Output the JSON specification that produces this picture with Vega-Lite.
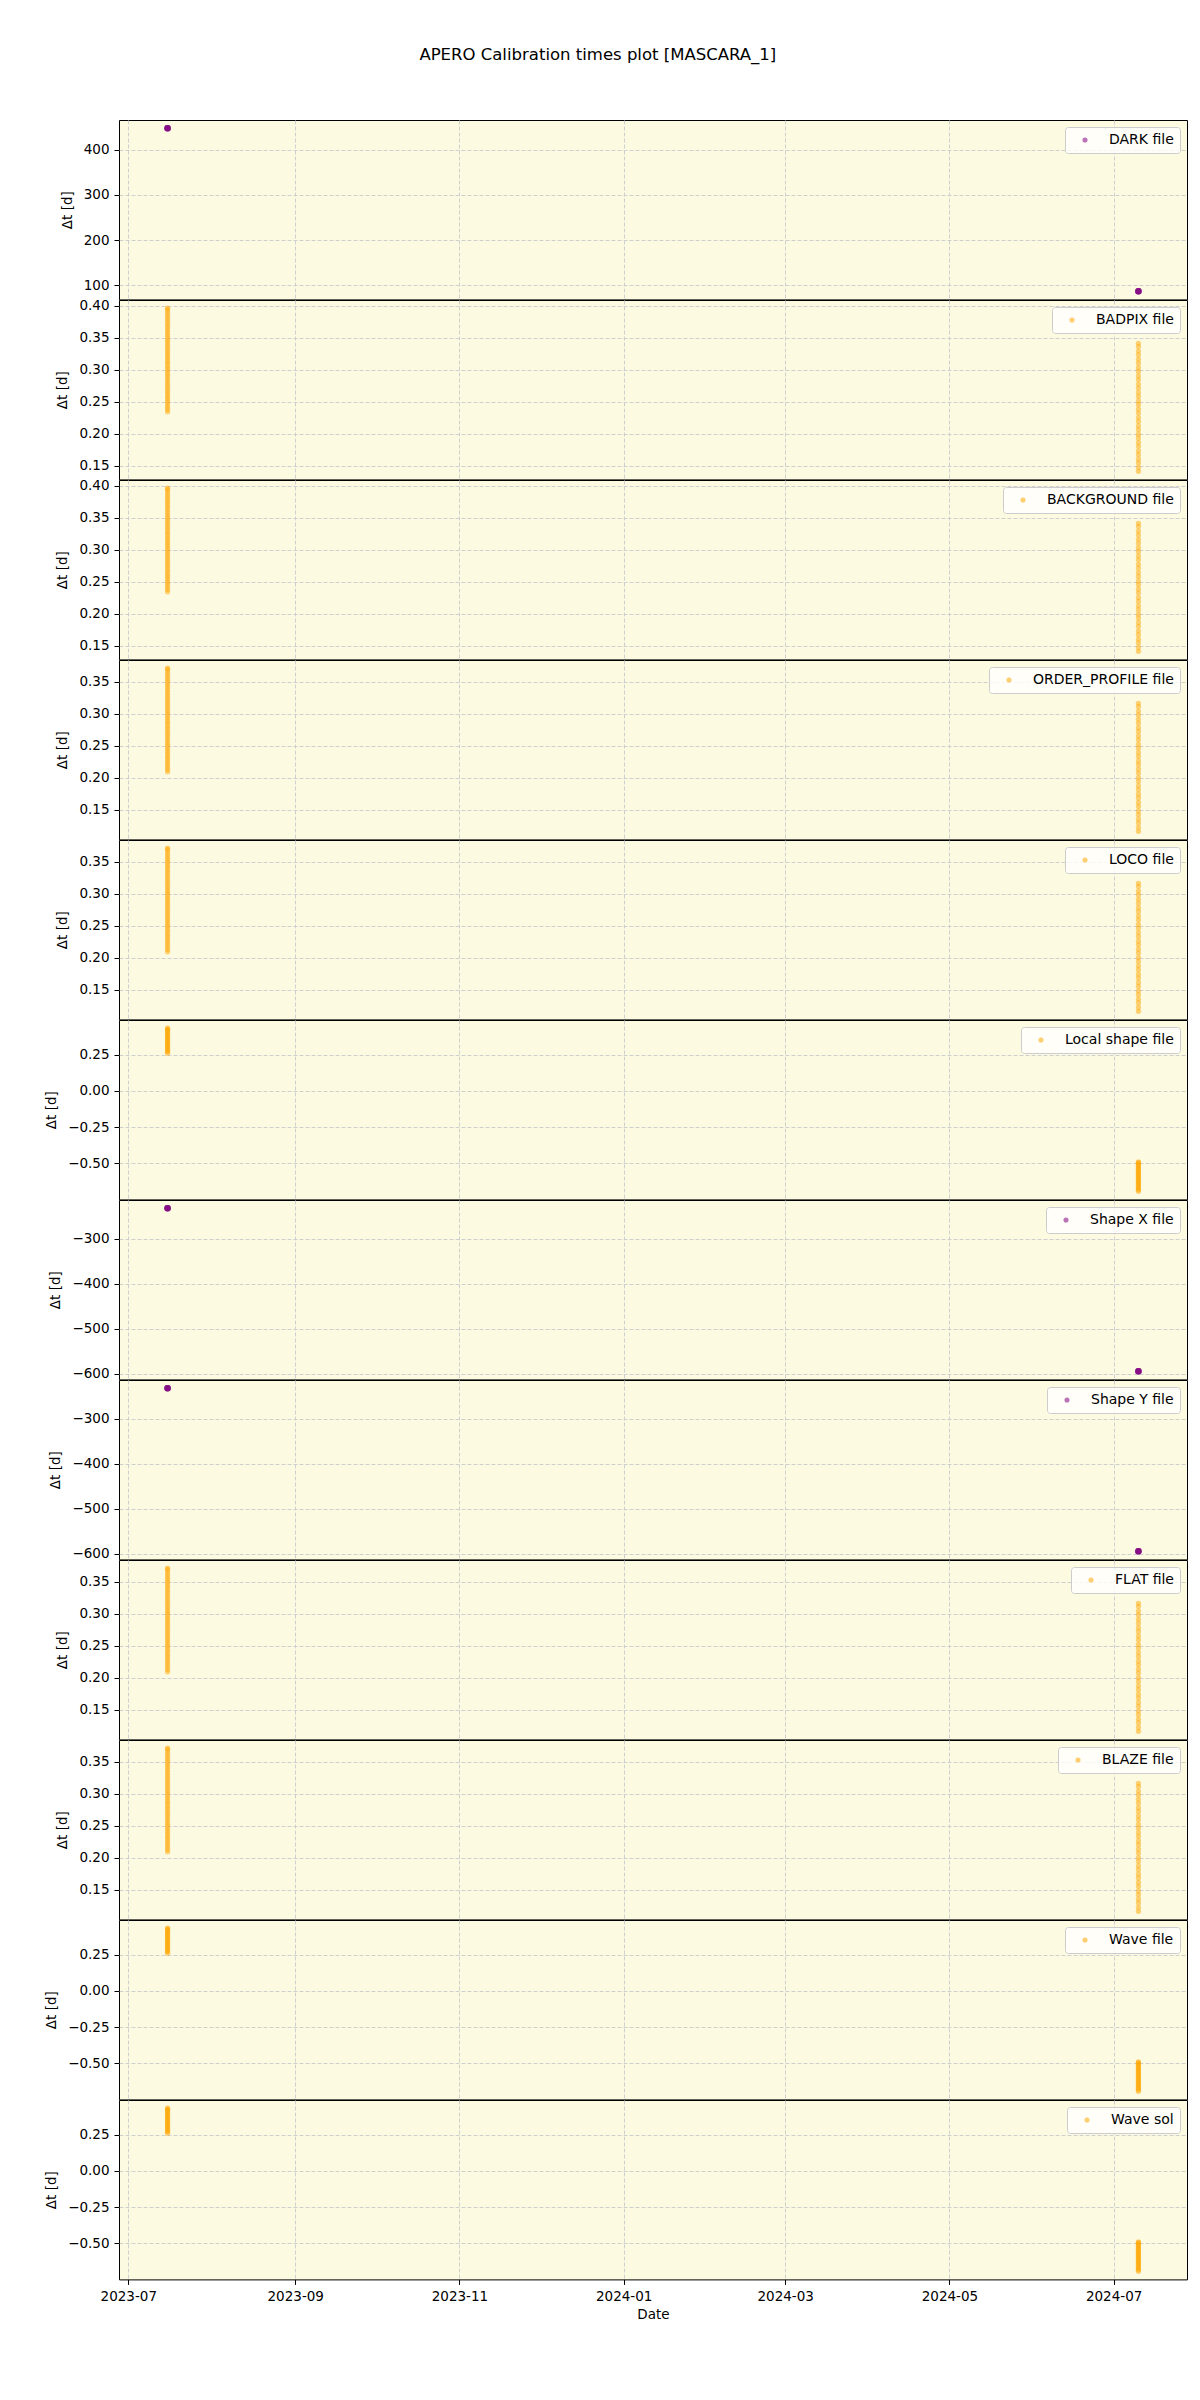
{
  "$schema": "https://vega.github.io/schema/vega-lite/v6.json",
  "padding": {"left": 44, "top": 47, "right": 12, "bottom": 5},
  "title": {"text": "APERO Calibration times plot [MASCARA_1]", "fontSize": 16.5, "fontWeight": "normal", "font": "DejaVu Sans", "color": "#000000", "anchor": "middle", "frame": "bounds", "offset": 56, "dx": -18},
  "spacing": 0,
  "bounds": "flush",
  "config": {
    "font": "DejaVu Sans",
    "view": {"stroke": "#000000", "strokeWidth": 1, "fill": "#fcfbe1"},
    "axis": {"domain": false, "grid": true, "gridColor": "#cfcfcf", "gridDash": [4, 2], "gridWidth": 1, "tickColor": "#000000", "tickSize": 5, "tickWidth": 1, "labelColor": "#000000", "labelFontSize": 13.5, "labelFont": "DejaVu Sans", "labelPadding": 5, "titleColor": "#000000", "titleFontSize": 13.5, "titleFont": "DejaVu Sans", "titleFontWeight": "normal", "labelFlush": false, "labelOverlap": false},
    "axisY": {"titlePadding": 9},
    "axisX": {"titlePadding": 4, "labelPadding": 5.5},
    "legend": {"orient": "top-right", "offset": 7, "padding": 6, "fillColor": "rgba(255,255,255,0.8)", "strokeColor": "#cccccc", "strokeWidth": 1, "cornerRadius": 3, "labelFontSize": 14, "labelColor": "#000000", "labelFont": "DejaVu Sans", "symbolSize": 26, "symbolOpacity": 0.55, "symbolOffset": 7, "labelOffset": 17, "symbolStrokeWidth": 0}
  },
  "datasets": {
    "dark": [
      {"t": "2023-07-15T14:00:00", "y": 447.95}, {"t": "2023-07-15T14:00:00", "y": 448.0}, {"t": "2023-07-15T14:00:00", "y": 448.05}, {"t": "2023-07-15T14:00:00", "y": 448.1},
      {"t": "2024-07-10T05:00:00", "y": 86.75}, {"t": "2024-07-10T05:00:00", "y": 86.8}, {"t": "2024-07-10T05:00:00", "y": 86.85}, {"t": "2024-07-10T05:00:00", "y": 86.9}
    ],
    "sh": [
      {"t": "2023-07-15T14:00:00", "y": -231.6}, {"t": "2023-07-15T14:00:00", "y": -231.55}, {"t": "2023-07-15T14:00:00", "y": -231.5}, {"t": "2023-07-15T14:00:00", "y": -231.45},
      {"t": "2024-07-10T05:00:00", "y": -594.1}, {"t": "2024-07-10T05:00:00", "y": -594.05}, {"t": "2024-07-10T05:00:00", "y": -594.0}, {"t": "2024-07-10T05:00:00", "y": -593.95}
    ],
    "bp": [
      {"t": "2023-07-15T14:00:00", "y": 0.234}, {"t": "2023-07-15T14:00:00", "y": 0.238}, {"t": "2023-07-15T14:00:00", "y": 0.242}, {"t": "2023-07-15T14:00:00", "y": 0.246}, {"t": "2023-07-15T14:00:00", "y": 0.250}, {"t": "2023-07-15T14:00:00", "y": 0.254}, {"t": "2023-07-15T14:00:00", "y": 0.258}, {"t": "2023-07-15T14:00:00", "y": 0.262}, {"t": "2023-07-15T14:00:00", "y": 0.266}, {"t": "2023-07-15T14:00:00", "y": 0.270}, {"t": "2023-07-15T14:00:00", "y": 0.274}, {"t": "2023-07-15T14:00:00", "y": 0.278}, {"t": "2023-07-15T14:00:00", "y": 0.282}, {"t": "2023-07-15T14:00:00", "y": 0.286}, {"t": "2023-07-15T14:00:00", "y": 0.290}, {"t": "2023-07-15T14:00:00", "y": 0.294}, {"t": "2023-07-15T14:00:00", "y": 0.298}, {"t": "2023-07-15T14:00:00", "y": 0.302}, {"t": "2023-07-15T14:00:00", "y": 0.306}, {"t": "2023-07-15T14:00:00", "y": 0.310}, {"t": "2023-07-15T14:00:00", "y": 0.314}, {"t": "2023-07-15T14:00:00", "y": 0.318}, {"t": "2023-07-15T14:00:00", "y": 0.322}, {"t": "2023-07-15T14:00:00", "y": 0.326}, {"t": "2023-07-15T14:00:00", "y": 0.330}, {"t": "2023-07-15T14:00:00", "y": 0.334}, {"t": "2023-07-15T14:00:00", "y": 0.338}, {"t": "2023-07-15T14:00:00", "y": 0.342}, {"t": "2023-07-15T14:00:00", "y": 0.346}, {"t": "2023-07-15T14:00:00", "y": 0.350}, {"t": "2023-07-15T14:00:00", "y": 0.354}, {"t": "2023-07-15T14:00:00", "y": 0.358}, {"t": "2023-07-15T14:00:00", "y": 0.362}, {"t": "2023-07-15T14:00:00", "y": 0.366}, {"t": "2023-07-15T14:00:00", "y": 0.370}, {"t": "2023-07-15T14:00:00", "y": 0.374}, {"t": "2023-07-15T14:00:00", "y": 0.378}, {"t": "2023-07-15T14:00:00", "y": 0.382}, {"t": "2023-07-15T14:00:00", "y": 0.386}, {"t": "2023-07-15T14:00:00", "y": 0.390}, {"t": "2023-07-15T14:00:00", "y": 0.394}, {"t": "2023-07-15T14:00:00", "y": 0.396},
      {"t": "2024-07-10T05:00:00", "y": 0.141}, {"t": "2024-07-10T05:00:00", "y": 0.147}, {"t": "2024-07-10T05:00:00", "y": 0.154}, {"t": "2024-07-10T05:00:00", "y": 0.160}, {"t": "2024-07-10T05:00:00", "y": 0.167}, {"t": "2024-07-10T05:00:00", "y": 0.173}, {"t": "2024-07-10T05:00:00", "y": 0.180}, {"t": "2024-07-10T05:00:00", "y": 0.186}, {"t": "2024-07-10T05:00:00", "y": 0.193}, {"t": "2024-07-10T05:00:00", "y": 0.199}, {"t": "2024-07-10T05:00:00", "y": 0.206}, {"t": "2024-07-10T05:00:00", "y": 0.212}, {"t": "2024-07-10T05:00:00", "y": 0.219}, {"t": "2024-07-10T05:00:00", "y": 0.225}, {"t": "2024-07-10T05:00:00", "y": 0.232}, {"t": "2024-07-10T05:00:00", "y": 0.238}, {"t": "2024-07-10T05:00:00", "y": 0.245}, {"t": "2024-07-10T05:00:00", "y": 0.251}, {"t": "2024-07-10T05:00:00", "y": 0.258}, {"t": "2024-07-10T05:00:00", "y": 0.264}, {"t": "2024-07-10T05:00:00", "y": 0.271}, {"t": "2024-07-10T05:00:00", "y": 0.277}, {"t": "2024-07-10T05:00:00", "y": 0.284}, {"t": "2024-07-10T05:00:00", "y": 0.290}, {"t": "2024-07-10T05:00:00", "y": 0.297}, {"t": "2024-07-10T05:00:00", "y": 0.303}, {"t": "2024-07-10T05:00:00", "y": 0.310}, {"t": "2024-07-10T05:00:00", "y": 0.316}, {"t": "2024-07-10T05:00:00", "y": 0.323}, {"t": "2024-07-10T05:00:00", "y": 0.329}, {"t": "2024-07-10T05:00:00", "y": 0.336}, {"t": "2024-07-10T05:00:00", "y": 0.341}
    ],
    "op": [
      {"t": "2023-07-15T14:00:00", "y": 0.209}, {"t": "2023-07-15T14:00:00", "y": 0.213}, {"t": "2023-07-15T14:00:00", "y": 0.217}, {"t": "2023-07-15T14:00:00", "y": 0.221}, {"t": "2023-07-15T14:00:00", "y": 0.225}, {"t": "2023-07-15T14:00:00", "y": 0.229}, {"t": "2023-07-15T14:00:00", "y": 0.233}, {"t": "2023-07-15T14:00:00", "y": 0.237}, {"t": "2023-07-15T14:00:00", "y": 0.241}, {"t": "2023-07-15T14:00:00", "y": 0.245}, {"t": "2023-07-15T14:00:00", "y": 0.249}, {"t": "2023-07-15T14:00:00", "y": 0.253}, {"t": "2023-07-15T14:00:00", "y": 0.257}, {"t": "2023-07-15T14:00:00", "y": 0.261}, {"t": "2023-07-15T14:00:00", "y": 0.265}, {"t": "2023-07-15T14:00:00", "y": 0.269}, {"t": "2023-07-15T14:00:00", "y": 0.273}, {"t": "2023-07-15T14:00:00", "y": 0.277}, {"t": "2023-07-15T14:00:00", "y": 0.281}, {"t": "2023-07-15T14:00:00", "y": 0.285}, {"t": "2023-07-15T14:00:00", "y": 0.289}, {"t": "2023-07-15T14:00:00", "y": 0.293}, {"t": "2023-07-15T14:00:00", "y": 0.297}, {"t": "2023-07-15T14:00:00", "y": 0.301}, {"t": "2023-07-15T14:00:00", "y": 0.305}, {"t": "2023-07-15T14:00:00", "y": 0.309}, {"t": "2023-07-15T14:00:00", "y": 0.313}, {"t": "2023-07-15T14:00:00", "y": 0.317}, {"t": "2023-07-15T14:00:00", "y": 0.321}, {"t": "2023-07-15T14:00:00", "y": 0.325}, {"t": "2023-07-15T14:00:00", "y": 0.329}, {"t": "2023-07-15T14:00:00", "y": 0.333}, {"t": "2023-07-15T14:00:00", "y": 0.337}, {"t": "2023-07-15T14:00:00", "y": 0.341}, {"t": "2023-07-15T14:00:00", "y": 0.345}, {"t": "2023-07-15T14:00:00", "y": 0.349}, {"t": "2023-07-15T14:00:00", "y": 0.353}, {"t": "2023-07-15T14:00:00", "y": 0.357}, {"t": "2023-07-15T14:00:00", "y": 0.361}, {"t": "2023-07-15T14:00:00", "y": 0.365}, {"t": "2023-07-15T14:00:00", "y": 0.369}, {"t": "2023-07-15T14:00:00", "y": 0.371},
      {"t": "2024-07-10T05:00:00", "y": 0.116}, {"t": "2024-07-10T05:00:00", "y": 0.122}, {"t": "2024-07-10T05:00:00", "y": 0.129}, {"t": "2024-07-10T05:00:00", "y": 0.135}, {"t": "2024-07-10T05:00:00", "y": 0.142}, {"t": "2024-07-10T05:00:00", "y": 0.148}, {"t": "2024-07-10T05:00:00", "y": 0.155}, {"t": "2024-07-10T05:00:00", "y": 0.161}, {"t": "2024-07-10T05:00:00", "y": 0.168}, {"t": "2024-07-10T05:00:00", "y": 0.174}, {"t": "2024-07-10T05:00:00", "y": 0.181}, {"t": "2024-07-10T05:00:00", "y": 0.187}, {"t": "2024-07-10T05:00:00", "y": 0.194}, {"t": "2024-07-10T05:00:00", "y": 0.200}, {"t": "2024-07-10T05:00:00", "y": 0.207}, {"t": "2024-07-10T05:00:00", "y": 0.213}, {"t": "2024-07-10T05:00:00", "y": 0.220}, {"t": "2024-07-10T05:00:00", "y": 0.226}, {"t": "2024-07-10T05:00:00", "y": 0.233}, {"t": "2024-07-10T05:00:00", "y": 0.239}, {"t": "2024-07-10T05:00:00", "y": 0.246}, {"t": "2024-07-10T05:00:00", "y": 0.252}, {"t": "2024-07-10T05:00:00", "y": 0.259}, {"t": "2024-07-10T05:00:00", "y": 0.265}, {"t": "2024-07-10T05:00:00", "y": 0.272}, {"t": "2024-07-10T05:00:00", "y": 0.278}, {"t": "2024-07-10T05:00:00", "y": 0.285}, {"t": "2024-07-10T05:00:00", "y": 0.291}, {"t": "2024-07-10T05:00:00", "y": 0.298}, {"t": "2024-07-10T05:00:00", "y": 0.304}, {"t": "2024-07-10T05:00:00", "y": 0.311}, {"t": "2024-07-10T05:00:00", "y": 0.316}
    ],
    "ls": [
      {"t": "2023-07-15T14:00:00", "y": 0.262}, {"t": "2023-07-15T14:00:00", "y": 0.272}, {"t": "2023-07-15T14:00:00", "y": 0.282}, {"t": "2023-07-15T14:00:00", "y": 0.292}, {"t": "2023-07-15T14:00:00", "y": 0.302}, {"t": "2023-07-15T14:00:00", "y": 0.312}, {"t": "2023-07-15T14:00:00", "y": 0.322}, {"t": "2023-07-15T14:00:00", "y": 0.332}, {"t": "2023-07-15T14:00:00", "y": 0.342}, {"t": "2023-07-15T14:00:00", "y": 0.352}, {"t": "2023-07-15T14:00:00", "y": 0.362}, {"t": "2023-07-15T14:00:00", "y": 0.372}, {"t": "2023-07-15T14:00:00", "y": 0.382}, {"t": "2023-07-15T14:00:00", "y": 0.392}, {"t": "2023-07-15T14:00:00", "y": 0.402}, {"t": "2023-07-15T14:00:00", "y": 0.412}, {"t": "2023-07-15T14:00:00", "y": 0.422}, {"t": "2023-07-15T14:00:00", "y": 0.430}, {"t": "2023-07-15T14:00:00", "y": 0.435},
      {"t": "2024-07-10T05:00:00", "y": -0.694}, {"t": "2024-07-10T05:00:00", "y": -0.684}, {"t": "2024-07-10T05:00:00", "y": -0.674}, {"t": "2024-07-10T05:00:00", "y": -0.664}, {"t": "2024-07-10T05:00:00", "y": -0.654}, {"t": "2024-07-10T05:00:00", "y": -0.644}, {"t": "2024-07-10T05:00:00", "y": -0.634}, {"t": "2024-07-10T05:00:00", "y": -0.624}, {"t": "2024-07-10T05:00:00", "y": -0.614}, {"t": "2024-07-10T05:00:00", "y": -0.604}, {"t": "2024-07-10T05:00:00", "y": -0.594}, {"t": "2024-07-10T05:00:00", "y": -0.584}, {"t": "2024-07-10T05:00:00", "y": -0.574}, {"t": "2024-07-10T05:00:00", "y": -0.564}, {"t": "2024-07-10T05:00:00", "y": -0.554}, {"t": "2024-07-10T05:00:00", "y": -0.544}, {"t": "2024-07-10T05:00:00", "y": -0.534}, {"t": "2024-07-10T05:00:00", "y": -0.524}, {"t": "2024-07-10T05:00:00", "y": -0.514}, {"t": "2024-07-10T05:00:00", "y": -0.504}, {"t": "2024-07-10T05:00:00", "y": -0.496}, {"t": "2024-07-10T05:00:00", "y": -0.491}
    ]
  },
  "resolve": {"scale": {"color": "independent", "y": "independent", "x": "independent"}, "legend": {"color": "independent"}},
  "vconcat": [
    {
      "width": 1068, "height": 179.4, "data": {"name": "dark"},
      "mark": {"type": "point", "filled": true, "size": 42, "opacity": 0.5},
      "encoding": {
        "x": {"field": "t", "type": "temporal", "scale": {"domain": [{"year": 2023, "month": 6, "date": 27, "hours": 13}, {"year": 2024, "month": 7, "date": 28, "hours": 6}]}, "axis": {"values": [{"year": 2023, "month": 7, "date": 1}, {"year": 2023, "month": 9, "date": 1}, {"year": 2023, "month": 11, "date": 1}, {"year": 2024, "month": 1, "date": 1}, {"year": 2024, "month": 3, "date": 1}, {"year": 2024, "month": 5, "date": 1}, {"year": 2024, "month": 7, "date": 1}], "labels": false, "ticks": false, "title": null}},
        "y": {"field": "y", "type": "quantitative", "scale": {"domain": [68.7, 466.1], "nice": false, "zero": false}, "axis": {"values": [100, 200, 300, 400], "format": "d", "title": "Δt [d]"}},
        "color": {"datum": "DARK file", "scale": {"range": ["#800080"]}, "legend": {"title": null}}
      }
    },
    {
      "width": 1068, "height": 179.4, "data": {"name": "bp"},
      "mark": {"type": "point", "filled": true, "size": 28, "opacity": 0.5},
      "encoding": {
        "x": {"field": "t", "type": "temporal", "scale": {"domain": [{"year": 2023, "month": 6, "date": 27, "hours": 13}, {"year": 2024, "month": 7, "date": 28, "hours": 6}]}, "axis": {"values": [{"year": 2023, "month": 7, "date": 1}, {"year": 2023, "month": 9, "date": 1}, {"year": 2023, "month": 11, "date": 1}, {"year": 2024, "month": 1, "date": 1}, {"year": 2024, "month": 3, "date": 1}, {"year": 2024, "month": 5, "date": 1}, {"year": 2024, "month": 7, "date": 1}], "labels": false, "ticks": false, "title": null}},
        "y": {"field": "y", "type": "quantitative", "scale": {"domain": [0.1283, 0.4088], "nice": false, "zero": false}, "axis": {"values": [0.15, 0.2, 0.25, 0.3, 0.35, 0.4], "format": ".2f", "title": "Δt [d]"}},
        "color": {"datum": "BADPIX file", "scale": {"range": ["#ffa500"]}, "legend": {"title": null}}
      }
    },
    {
      "width": 1068, "height": 179.4, "data": {"name": "bp"},
      "mark": {"type": "point", "filled": true, "size": 28, "opacity": 0.5},
      "encoding": {
        "x": {"field": "t", "type": "temporal", "scale": {"domain": [{"year": 2023, "month": 6, "date": 27, "hours": 13}, {"year": 2024, "month": 7, "date": 28, "hours": 6}]}, "axis": {"values": [{"year": 2023, "month": 7, "date": 1}, {"year": 2023, "month": 9, "date": 1}, {"year": 2023, "month": 11, "date": 1}, {"year": 2024, "month": 1, "date": 1}, {"year": 2024, "month": 3, "date": 1}, {"year": 2024, "month": 5, "date": 1}, {"year": 2024, "month": 7, "date": 1}], "labels": false, "ticks": false, "title": null}},
        "y": {"field": "y", "type": "quantitative", "scale": {"domain": [0.1283, 0.4088], "nice": false, "zero": false}, "axis": {"values": [0.15, 0.2, 0.25, 0.3, 0.35, 0.4], "format": ".2f", "title": "Δt [d]"}},
        "color": {"datum": "BACKGROUND file", "scale": {"range": ["#ffa500"]}, "legend": {"title": null}}
      }
    },
    {
      "width": 1068, "height": 179.4, "data": {"name": "op"},
      "mark": {"type": "point", "filled": true, "size": 28, "opacity": 0.5},
      "encoding": {
        "x": {"field": "t", "type": "temporal", "scale": {"domain": [{"year": 2023, "month": 6, "date": 27, "hours": 13}, {"year": 2024, "month": 7, "date": 28, "hours": 6}]}, "axis": {"values": [{"year": 2023, "month": 7, "date": 1}, {"year": 2023, "month": 9, "date": 1}, {"year": 2023, "month": 11, "date": 1}, {"year": 2024, "month": 1, "date": 1}, {"year": 2024, "month": 3, "date": 1}, {"year": 2024, "month": 5, "date": 1}, {"year": 2024, "month": 7, "date": 1}], "labels": false, "ticks": false, "title": null}},
        "y": {"field": "y", "type": "quantitative", "scale": {"domain": [0.1033, 0.3838], "nice": false, "zero": false}, "axis": {"values": [0.15, 0.2, 0.25, 0.3, 0.35], "format": ".2f", "title": "Δt [d]"}},
        "color": {"datum": "ORDER_PROFILE file", "scale": {"range": ["#ffa500"]}, "legend": {"title": null}}
      }
    },
    {
      "width": 1068, "height": 179.4, "data": {"name": "op"},
      "mark": {"type": "point", "filled": true, "size": 28, "opacity": 0.5},
      "encoding": {
        "x": {"field": "t", "type": "temporal", "scale": {"domain": [{"year": 2023, "month": 6, "date": 27, "hours": 13}, {"year": 2024, "month": 7, "date": 28, "hours": 6}]}, "axis": {"values": [{"year": 2023, "month": 7, "date": 1}, {"year": 2023, "month": 9, "date": 1}, {"year": 2023, "month": 11, "date": 1}, {"year": 2024, "month": 1, "date": 1}, {"year": 2024, "month": 3, "date": 1}, {"year": 2024, "month": 5, "date": 1}, {"year": 2024, "month": 7, "date": 1}], "labels": false, "ticks": false, "title": null}},
        "y": {"field": "y", "type": "quantitative", "scale": {"domain": [0.1033, 0.3838], "nice": false, "zero": false}, "axis": {"values": [0.15, 0.2, 0.25, 0.3, 0.35], "format": ".2f", "title": "Δt [d]"}},
        "color": {"datum": "LOCO file", "scale": {"range": ["#ffa500"]}, "legend": {"title": null}}
      }
    },
    {
      "width": 1068, "height": 179.4, "data": {"name": "ls"},
      "mark": {"type": "point", "filled": true, "size": 28, "opacity": 0.5},
      "encoding": {
        "x": {"field": "t", "type": "temporal", "scale": {"domain": [{"year": 2023, "month": 6, "date": 27, "hours": 13}, {"year": 2024, "month": 7, "date": 28, "hours": 6}]}, "axis": {"values": [{"year": 2023, "month": 7, "date": 1}, {"year": 2023, "month": 9, "date": 1}, {"year": 2023, "month": 11, "date": 1}, {"year": 2024, "month": 1, "date": 1}, {"year": 2024, "month": 3, "date": 1}, {"year": 2024, "month": 5, "date": 1}, {"year": 2024, "month": 7, "date": 1}], "labels": false, "ticks": false, "title": null}},
        "y": {"field": "y", "type": "quantitative", "scale": {"domain": [-0.7505, 0.4915], "nice": false, "zero": false}, "axis": {"values": [-0.5, -0.25, 0, 0.25], "format": ".2f", "title": "Δt [d]"}},
        "color": {"datum": "Local shape file", "scale": {"range": ["#ffa500"]}, "legend": {"title": null}}
      }
    },
    {
      "width": 1068, "height": 179.4, "data": {"name": "sh"},
      "mark": {"type": "point", "filled": true, "size": 42, "opacity": 0.5},
      "encoding": {
        "x": {"field": "t", "type": "temporal", "scale": {"domain": [{"year": 2023, "month": 6, "date": 27, "hours": 13}, {"year": 2024, "month": 7, "date": 28, "hours": 6}]}, "axis": {"values": [{"year": 2023, "month": 7, "date": 1}, {"year": 2023, "month": 9, "date": 1}, {"year": 2023, "month": 11, "date": 1}, {"year": 2024, "month": 1, "date": 1}, {"year": 2024, "month": 3, "date": 1}, {"year": 2024, "month": 5, "date": 1}, {"year": 2024, "month": 7, "date": 1}], "labels": false, "ticks": false, "title": null}},
        "y": {"field": "y", "type": "quantitative", "scale": {"domain": [-612.1, -213.4], "nice": false, "zero": false}, "axis": {"values": [-600, -500, -400, -300], "format": "d", "title": "Δt [d]"}},
        "color": {"datum": "Shape X file", "scale": {"range": ["#800080"]}, "legend": {"title": null}}
      }
    },
    {
      "width": 1068, "height": 179.4, "data": {"name": "sh"},
      "mark": {"type": "point", "filled": true, "size": 42, "opacity": 0.5},
      "encoding": {
        "x": {"field": "t", "type": "temporal", "scale": {"domain": [{"year": 2023, "month": 6, "date": 27, "hours": 13}, {"year": 2024, "month": 7, "date": 28, "hours": 6}]}, "axis": {"values": [{"year": 2023, "month": 7, "date": 1}, {"year": 2023, "month": 9, "date": 1}, {"year": 2023, "month": 11, "date": 1}, {"year": 2024, "month": 1, "date": 1}, {"year": 2024, "month": 3, "date": 1}, {"year": 2024, "month": 5, "date": 1}, {"year": 2024, "month": 7, "date": 1}], "labels": false, "ticks": false, "title": null}},
        "y": {"field": "y", "type": "quantitative", "scale": {"domain": [-612.1, -213.4], "nice": false, "zero": false}, "axis": {"values": [-600, -500, -400, -300], "format": "d", "title": "Δt [d]"}},
        "color": {"datum": "Shape Y file", "scale": {"range": ["#800080"]}, "legend": {"title": null}}
      }
    },
    {
      "width": 1068, "height": 179.4, "data": {"name": "op"},
      "mark": {"type": "point", "filled": true, "size": 28, "opacity": 0.5},
      "encoding": {
        "x": {"field": "t", "type": "temporal", "scale": {"domain": [{"year": 2023, "month": 6, "date": 27, "hours": 13}, {"year": 2024, "month": 7, "date": 28, "hours": 6}]}, "axis": {"values": [{"year": 2023, "month": 7, "date": 1}, {"year": 2023, "month": 9, "date": 1}, {"year": 2023, "month": 11, "date": 1}, {"year": 2024, "month": 1, "date": 1}, {"year": 2024, "month": 3, "date": 1}, {"year": 2024, "month": 5, "date": 1}, {"year": 2024, "month": 7, "date": 1}], "labels": false, "ticks": false, "title": null}},
        "y": {"field": "y", "type": "quantitative", "scale": {"domain": [0.1033, 0.3838], "nice": false, "zero": false}, "axis": {"values": [0.15, 0.2, 0.25, 0.3, 0.35], "format": ".2f", "title": "Δt [d]"}},
        "color": {"datum": "FLAT file", "scale": {"range": ["#ffa500"]}, "legend": {"title": null}}
      }
    },
    {
      "width": 1068, "height": 179.4, "data": {"name": "op"},
      "mark": {"type": "point", "filled": true, "size": 28, "opacity": 0.5},
      "encoding": {
        "x": {"field": "t", "type": "temporal", "scale": {"domain": [{"year": 2023, "month": 6, "date": 27, "hours": 13}, {"year": 2024, "month": 7, "date": 28, "hours": 6}]}, "axis": {"values": [{"year": 2023, "month": 7, "date": 1}, {"year": 2023, "month": 9, "date": 1}, {"year": 2023, "month": 11, "date": 1}, {"year": 2024, "month": 1, "date": 1}, {"year": 2024, "month": 3, "date": 1}, {"year": 2024, "month": 5, "date": 1}, {"year": 2024, "month": 7, "date": 1}], "labels": false, "ticks": false, "title": null}},
        "y": {"field": "y", "type": "quantitative", "scale": {"domain": [0.1033, 0.3838], "nice": false, "zero": false}, "axis": {"values": [0.15, 0.2, 0.25, 0.3, 0.35], "format": ".2f", "title": "Δt [d]"}},
        "color": {"datum": "BLAZE file", "scale": {"range": ["#ffa500"]}, "legend": {"title": null}}
      }
    },
    {
      "width": 1068, "height": 179.4, "data": {"name": "ls"},
      "mark": {"type": "point", "filled": true, "size": 28, "opacity": 0.5},
      "encoding": {
        "x": {"field": "t", "type": "temporal", "scale": {"domain": [{"year": 2023, "month": 6, "date": 27, "hours": 13}, {"year": 2024, "month": 7, "date": 28, "hours": 6}]}, "axis": {"values": [{"year": 2023, "month": 7, "date": 1}, {"year": 2023, "month": 9, "date": 1}, {"year": 2023, "month": 11, "date": 1}, {"year": 2024, "month": 1, "date": 1}, {"year": 2024, "month": 3, "date": 1}, {"year": 2024, "month": 5, "date": 1}, {"year": 2024, "month": 7, "date": 1}], "labels": false, "ticks": false, "title": null}},
        "y": {"field": "y", "type": "quantitative", "scale": {"domain": [-0.7505, 0.4915], "nice": false, "zero": false}, "axis": {"values": [-0.5, -0.25, 0, 0.25], "format": ".2f", "title": "Δt [d]"}},
        "color": {"datum": "Wave file", "scale": {"range": ["#ffa500"]}, "legend": {"title": null}}
      }
    },
    {
      "width": 1068, "height": 179.4, "data": {"name": "ls"},
      "mark": {"type": "point", "filled": true, "size": 28, "opacity": 0.5},
      "encoding": {
        "x": {"field": "t", "type": "temporal", "scale": {"domain": [{"year": 2023, "month": 6, "date": 27, "hours": 13}, {"year": 2024, "month": 7, "date": 28, "hours": 6}]}, "axis": {"values": [{"year": 2023, "month": 7, "date": 1}, {"year": 2023, "month": 9, "date": 1}, {"year": 2023, "month": 11, "date": 1}, {"year": 2024, "month": 1, "date": 1}, {"year": 2024, "month": 3, "date": 1}, {"year": 2024, "month": 5, "date": 1}, {"year": 2024, "month": 7, "date": 1}], "format": "%Y-%m", "title": "Date"}},
        "y": {"field": "y", "type": "quantitative", "scale": {"domain": [-0.7505, 0.4915], "nice": false, "zero": false}, "axis": {"values": [-0.5, -0.25, 0, 0.25], "format": ".2f", "title": "Δt [d]"}},
        "color": {"datum": "Wave sol", "scale": {"range": ["#ffa500"]}, "legend": {"title": null}}
      }
    }
  ]
}
